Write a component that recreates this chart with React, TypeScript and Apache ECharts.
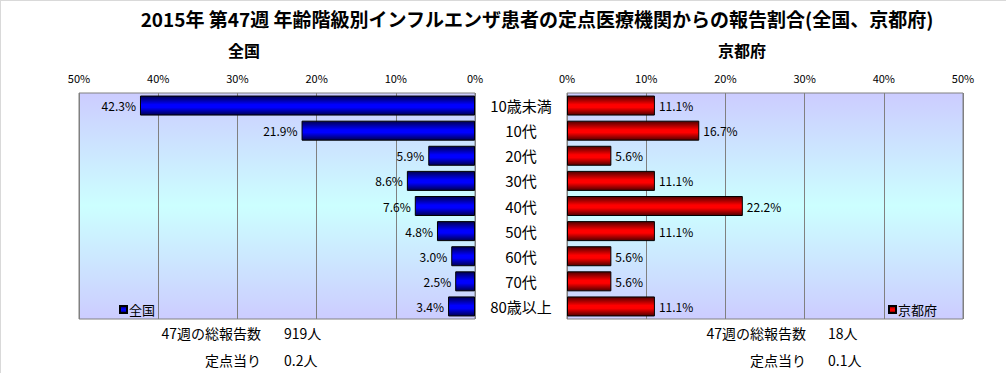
import React, { useEffect, useRef } from "react";
import * as echarts from "echarts";

const categories = ["10歳未満", "10代", "20代", "30代", "40代", "50代", "60代", "70代", "80歳以上"];
const nationalValues = [42.3, 21.9, 5.9, 8.6, 7.6, 4.8, 3.0, 2.5, 3.4];
const kyotoValues = [11.1, 16.7, 5.6, 11.1, 22.2, 11.1, 5.6, 5.6, 11.1];
const axisMin = 0;
const axisMax = 50;
const axisInterval = 10;
const titleText = "2015年 第47週 年齢階級別インフルエンザ患者の定点医療機関からの報告割合(全国、京都府)";
const leftHeader = "全国";
const rightHeader = "京都府";
const leftTotal = ["47週の総報告数", "919人"];
const leftPerSite = ["定点当り", "0.2人"];
const rightTotal = ["47週の総報告数", "18人"];
const rightPerSite = ["定点当り", "0.1人"];

const FONT = "'Noto Sans CJK JP', 'Noto Sans', sans-serif";

export default function App() {
  const ref = useRef<HTMLDivElement>(null);
  useEffect(() => {
    if (!ref.current) return;
    const chart = echarts.init(ref.current, undefined, { renderer: "svg" });
    const bg = new echarts.graphic.LinearGradient(0, 0, 0, 1, [
      { offset: 0, color: "#ccccff" },
      { offset: 0.5, color: "#ccffff" },
      { offset: 1, color: "#ccccff" },
    ]);
    const blue = new echarts.graphic.LinearGradient(0, 0, 0, 1, [
      { offset: 0, color: "#000050" },
      { offset: 0.45, color: "#0000ff" },
      { offset: 0.6, color: "#0000ff" },
      { offset: 1, color: "#000050" },
    ]);
    const red = new echarts.graphic.LinearGradient(0, 0, 0, 1, [
      { offset: 0, color: "#500000" },
      { offset: 0.45, color: "#ff0000" },
      { offset: 0.6, color: "#ff0000" },
      { offset: 1, color: "#500000" },
    ]);
    const xAxisCommon = {
      type: "value" as const,
      min: axisMin,
      max: axisMax,
      interval: axisInterval,
      position: "top" as const,
      axisLine: { show: false },
      axisTick: { show: false },
      axisLabel: { formatter: "{value}%", color: "#000", fontSize: 11, fontFamily: FONT, margin: 10 },
      splitLine: { show: true, lineStyle: { color: "#808080", width: 1 } },
    };
    const txt = (x: number, y: number, text: string, align: string, size = 14, weight = "normal") => ({
      type: "text",
      x,
      y,
      style: { text, fill: "#000", fontSize: size, fontFamily: FONT, fontWeight: weight, align, verticalAlign: "middle" },
    });
    const fmt = (p: any) => Number(p.value).toFixed(1) + "%";
    chart.setOption({
      animation: false,
      backgroundColor: "#fff",
      grid: [
        { left: 79, top: 93, width: 396, height: 226, show: true, backgroundColor: bg, borderColor: "#808080", borderWidth: 1 },
        { left: 567, top: 93, width: 396, height: 226, show: true, backgroundColor: bg, borderColor: "#808080", borderWidth: 1 },
      ],
      xAxis: [
        { ...xAxisCommon, gridIndex: 0, inverse: true },
        { ...xAxisCommon, gridIndex: 1 },
      ],
      yAxis: [
        {
          type: "category",
          gridIndex: 0,
          data: categories,
          inverse: true,
          position: "right",
          axisLine: { show: false },
          axisTick: { show: false },
          axisLabel: { show: false },
        },
        {
          type: "category",
          gridIndex: 1,
          data: categories,
          inverse: true,
          position: "left",
          axisLine: { show: false },
          axisTick: { show: false },
          axisLabel: { color: "#000", fontSize: 15, fontFamily: FONT, align: "center", margin: 46 },
        },
      ],
      legend: [
        {
          data: ["全国"],
          left: 114,
          top: 298,
          icon: "rect",
          itemWidth: 7,
          itemHeight: 7,
          itemGap: 2,
          textStyle: { color: "#000", fontSize: 13, fontFamily: FONT, padding: [0, 0, 0, -3] },
        },
        {
          data: ["京都府"],
          left: 883,
          top: 298,
          icon: "rect",
          itemWidth: 7,
          itemHeight: 7,
          textStyle: { color: "#000", fontSize: 13, fontFamily: FONT, padding: [0, 0, 0, -3] },
        },
      ],
      series: [
        {
          name: "全国",
          type: "bar",
          xAxisIndex: 0,
          yAxisIndex: 0,
          data: nationalValues,
          barWidth: 20,
          itemStyle: { color: blue, borderColor: "#000", borderWidth: 1 },
          label: { show: true, position: "left", formatter: fmt, color: "#000", fontSize: 12, fontFamily: FONT, distance: 4 },
        },
        {
          name: "京都府",
          type: "bar",
          xAxisIndex: 1,
          yAxisIndex: 1,
          data: kyotoValues,
          barWidth: 20,
          itemStyle: { color: red, borderColor: "#000", borderWidth: 1 },
          label: { show: true, position: "right", formatter: fmt, color: "#000", fontSize: 12, fontFamily: FONT, distance: 4 },
        },
      ],
      graphic: [
        { type: "line", shape: { x1: 0.5, y1: 0, x2: 0.5, y2: 373 }, style: { stroke: "#d9d9d9", lineWidth: 1 } },
        { type: "line", shape: { x1: 0, y1: 0.5, x2: 1006, y2: 0.5 }, style: { stroke: "#d9d9d9", lineWidth: 1 } },
        txt(537, 18, titleText, "center", 19, "bold"),
        txt(244, 50, leftHeader, "center", 16, "bold"),
        txt(742, 50, rightHeader, "center", 16, "bold"),
        txt(261, 333, leftTotal[0], "right"),
        txt(284, 333, leftTotal[1], "left"),
        txt(261, 360, leftPerSite[0], "right"),
        txt(284, 360, leftPerSite[1], "left"),
        txt(806, 333, rightTotal[0], "right"),
        txt(828, 333, rightTotal[1], "left"),
        txt(806, 360, rightPerSite[0], "right"),
        txt(828, 360, rightPerSite[1], "left"),
      ],
    });
    return () => chart.dispose();
  }, []);
  return <div ref={ref} style={{ position: "fixed", left: 0, top: 0, width: 1006, height: 373 }} />;
}
